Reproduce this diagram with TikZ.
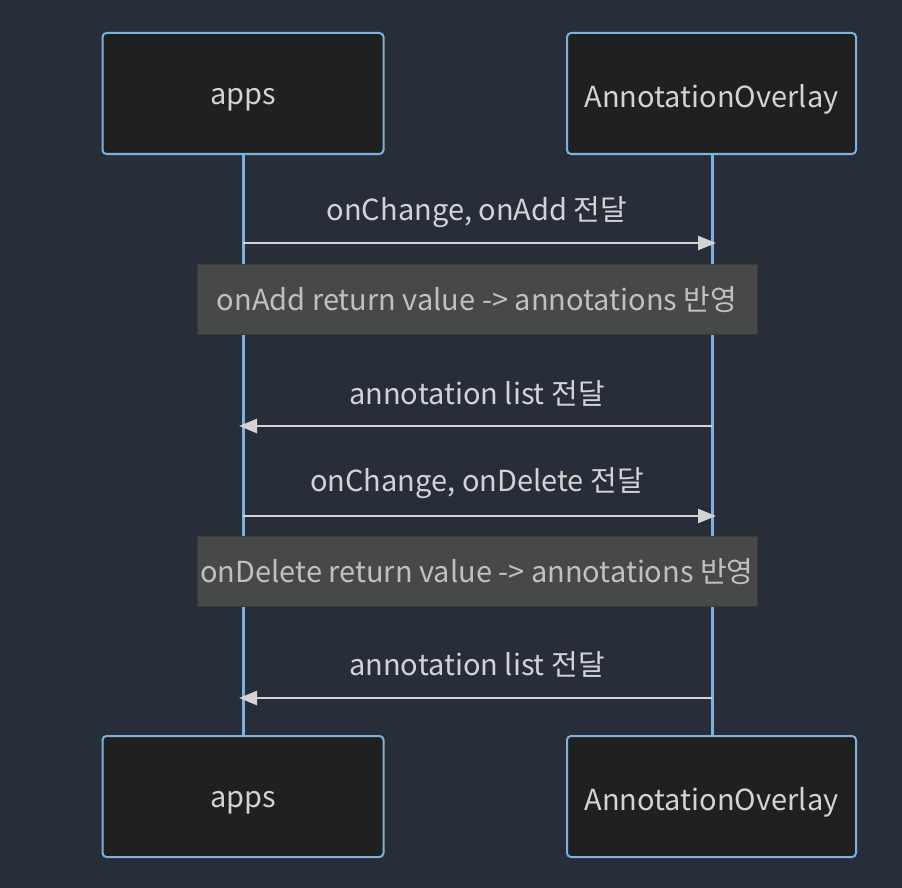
\documentclass[tikz,border=0pt]{standalone}
\usepackage{fontspec}
\setmainfont{Noto Sans CJK KR}
\usetikzlibrary{arrows.meta}
\definecolor{bgcol}{HTML}{282D3A}
\definecolor{actorfill}{HTML}{1F2020}
\definecolor{lifecol}{HTML}{81B1DB}
\definecolor{msgcol}{HTML}{D3D3D3}
\definecolor{notefill}{HTML}{474949}
\definecolor{notetext}{HTML}{C0C0C0}
\tikzset{
    actor/.style={draw=lifecol, fill=actorfill, line width=2pt, rounded corners=4pt,
        minimum width=281pt, minimum height=121pt},
    note/.style={draw=notefill!80!black, fill=notefill, line width=1pt,
        minimum width=560pt, minimum height=70pt},
    msg/.style={draw=msgcol, line width=2.5pt, -{Triangle[length=18pt, width=14pt]}},
    label/.style={text=msgcol, font=\fontsize{29}{33}\selectfont},
}
\begin{document}
\begin{tikzpicture}[x=1pt, y=-1pt]
        \fill[bgcol] (0, 0) rectangle (902, 888);
        \useasboundingbox (0, 0) rectangle (902, 888);
        % lifelines
        \draw[lifecol, line width=3pt] (243, 154) -- (243, 736);
        \draw[lifecol, line width=3pt] (712, 154) -- (712, 736);
        % actors
        \node[actor] (appsTop) at (243, 93.5) {};
        \node[actor, minimum width=289pt] (overlayTop) at (711.5, 93.5) {};
        \node[actor] (appsBot) at (243, 796.5) {};
        \node[actor, minimum width=289pt] (overlayBot) at (711.5, 796.5) {};
        \node[label] at ([yshift=-6pt]appsTop.center) {apps};
        \node[label] at ([yshift=-6pt]overlayTop.center) {AnnotationOverlay};
        \node[label] at ([yshift=-6pt]appsBot.center) {apps};
        \node[label] at ([yshift=-6pt]overlayBot.center) {AnnotationOverlay};
        % messages
        \coordinate (a1) at (243, 243);
        \coordinate (o1) at (716, 243);
        \coordinate (o2) at (712, 426);
        \coordinate (a2) at (239, 426);
        \coordinate (a3) at (243, 516);
        \coordinate (o3) at (716, 516);
        \coordinate (o4) at (712, 698);
        \coordinate (a4) at (239, 698);
        \draw[msg] (a1) -- (o1);
        \draw[msg] (o2) -- (a2);
        \draw[msg] (a3) -- (o3);
        \draw[msg] (o4) -- (a4);
        \node[label] (m1) at (477, 212) {onChange, onAdd 전달};
        \node[label] (m2) at (477, 393) {annotation list 전달};
        \node[label] (m3) at (477, 483) {onChange, onDelete 전달};
        \node[label] (m4) at (477, 664) {annotation list 전달};
        % notes
        \node[note] (n1) at (477, 299) {};
        \node[note] (n2) at (477, 571) {};
        \node[label, text=notetext] at ([yshift=-1pt]n1.center) {onAdd return value -> annotations 반영};
        \node[label, text=notetext] at ([yshift=-1pt]n2.center) {onDelete return value -> annotations 반영};
    \end{tikzpicture}
\end{document}
